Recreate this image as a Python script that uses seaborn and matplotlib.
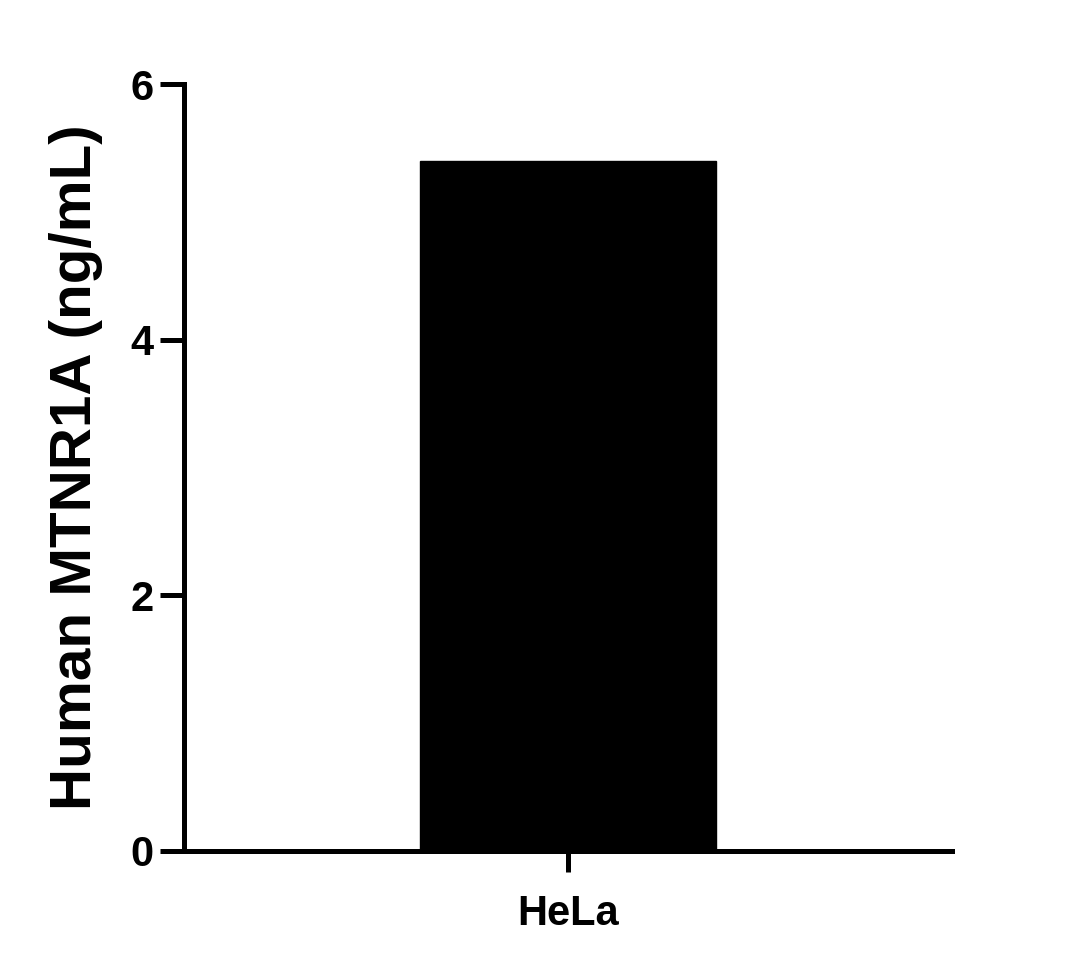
import seaborn as sns
import matplotlib.pyplot as plt
import pandas as pd

# data
cells = ["HeLa"]
conc = [5.4]
y_ticks = [0, 2, 4, 6]

df = pd.DataFrame({"cell": cells, "conc": conc})

sns.set_style("ticks")
plt.rcParams['font.family'] = ['Liberation Sans', 'DejaVu Sans']
plt.rcParams['font.weight'] = 'bold'

fig = plt.figure(figsize=(10.89, 9.68), dpi=100)
ax = fig.add_axes([0.169, 0.121, 0.705, 0.792])

sns.barplot(x="cell", y="conc", data=df, color="black", width=0.6,
            saturation=1, edgecolor="black", ax=ax)

ax.set_xlim(-0.78, 0.78)
ax.set_ylim(0, 6)
ax.set_yticks(y_ticks)
ax.set_xlabel("")
ax.set_ylabel("Human MTNR1A (ng/mL)", fontsize=42, fontweight='bold',
              labelpad=20, color='black')

for s in ["top", "right"]:
    ax.spines[s].set_visible(False)
for s in ["left", "bottom"]:
    ax.spines[s].set_linewidth(3.6)
    ax.spines[s].set_color("black")

ax.tick_params(axis='y', length=17, width=3.6, labelsize=30, pad=5, colors='black')
ax.tick_params(axis='x', length=15, width=3.6, labelsize=30, pad=16, colors='black')
for lab in ax.get_xticklabels() + ax.get_yticklabels():
    lab.set_fontweight('bold')

plt.savefig("out.png", dpi=100)
